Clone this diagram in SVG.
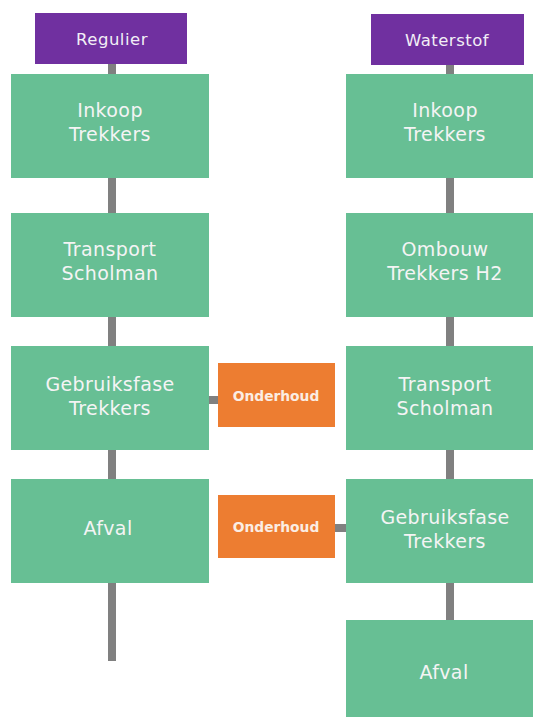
<svg xmlns="http://www.w3.org/2000/svg" width="533" height="717" viewBox="0 0 533 717">
<style>
.g{fill:#67BF94}
.p{fill:#7030A0}
.o{fill:#ED7D31}
.c{stroke:#808080;stroke-width:8;fill:none}
.t{font-family:"DejaVu Sans",Verdana,sans-serif;font-size:19px;letter-spacing:0.4px;fill:#F4F4F4;text-anchor:middle}
.tp{font-family:"DejaVu Sans",Verdana,sans-serif;font-size:16.5px;letter-spacing:0.5px;fill:#F2EEF6;text-anchor:middle}
.to{font-family:"DejaVu Sans",Verdana,sans-serif;font-size:13.8px;font-weight:bold;fill:#FBEDE3;text-anchor:middle}
</style>
<rect width="533" height="717" fill="#FFFFFF"/>
<g id="connectors">
<line class="c" x1="112" y1="64" x2="112" y2="661"/>
<line class="c" x1="450" y1="65" x2="450" y2="621"/>
<line class="c" x1="208" y1="400" x2="219" y2="400"/>
<line class="c" x1="334" y1="528" x2="347" y2="528"/>
</g>
<g id="regulier"><rect class="p" x="35" y="13" width="152" height="51"/><text class="tp" x="112" y="44.5">Regulier</text></g>
<g id="waterstof"><rect class="p" x="371" y="14" width="153" height="51"/><text class="tp" x="447" y="45.5">Waterstof</text></g>
<g id="l1"><rect class="g" x="11" y="74" width="198" height="104"/><text class="t" x="110" y="117">Inkoop</text><text class="t" x="110" y="141">Trekkers</text></g>
<g id="l2"><rect class="g" x="11" y="213" width="198" height="104"/><text class="t" x="110" y="256">Transport</text><text class="t" x="110" y="280">Scholman</text></g>
<g id="l3"><rect class="g" x="11" y="346" width="198" height="104"/><text class="t" x="110" y="390.5">Gebruiksfase</text><text class="t" x="110" y="414.5">Trekkers</text></g>
<g id="l4"><rect class="g" x="11" y="479" width="198" height="104"/><text class="t" x="108" y="535">Afval</text></g>
<g id="r1"><rect class="g" x="346" y="74" width="192" height="104"/><text class="t" x="445" y="117">Inkoop</text><text class="t" x="445" y="141">Trekkers</text></g>
<g id="r2"><rect class="g" x="346" y="213" width="192" height="104"/><text class="t" x="445" y="256">Ombouw</text><text class="t" x="445" y="280">Trekkers H2</text></g>
<g id="r3"><rect class="g" x="346" y="346" width="192" height="104"/><text class="t" x="445" y="390.5">Transport</text><text class="t" x="445" y="414.5">Scholman</text></g>
<g id="r4"><rect class="g" x="346" y="479" width="192" height="104"/><text class="t" x="445" y="523.5">Gebruiksfase</text><text class="t" x="445" y="547.5">Trekkers</text></g>
<g id="r5"><rect class="g" x="346" y="620" width="192" height="100"/><text class="t" x="444" y="679">Afval</text></g>
<g id="o1"><rect class="o" x="218" y="363" width="117" height="64"/><text class="to" x="276" y="400.5">Onderhoud</text></g>
<g id="o2"><rect class="o" x="218" y="495" width="117" height="63"/><text class="to" x="276" y="532">Onderhoud</text></g>
</svg>
